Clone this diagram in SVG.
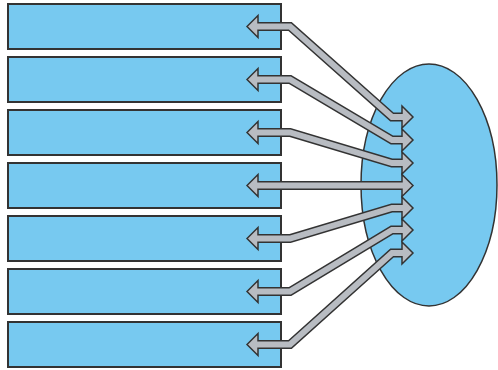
<svg xmlns="http://www.w3.org/2000/svg" width="498" height="370" viewBox="0 0 498 370">
<style>
.box{fill:#77c9f0;stroke:#333;stroke-width:2}
.ell{fill:#77c9f0;stroke:#333;stroke-width:1.5}
.sh{fill:none;stroke:#333;stroke-width:9;stroke-linejoin:miter}
.si{fill:none;stroke:#b8bcc2;stroke-width:6;stroke-linejoin:miter}
.hd{fill:#b8bcc2;stroke:#333;stroke-width:1.5;stroke-linejoin:miter}
</style>
<rect width="498" height="370" fill="#fff"/>
<g id="box1"><rect class="box" x="8" y="4" width="273" height="45"/></g>
<g id="box2"><rect class="box" x="8" y="57" width="273" height="45"/></g>
<g id="box3"><rect class="box" x="8" y="110" width="273" height="45"/></g>
<g id="box4"><rect class="box" x="8" y="163" width="273" height="45"/></g>
<g id="box5"><rect class="box" x="8" y="216" width="273" height="45"/></g>
<g id="box6"><rect class="box" x="8" y="269" width="273" height="45"/></g>
<g id="box7"><rect class="box" x="8" y="322" width="273" height="45"/></g>
<g id="hub"><ellipse class="ell" cx="429" cy="185" rx="68" ry="121"/></g>
<g id="connectors">
<g>
<polyline class="sh" points="252,26.5 290,26.5 392,117 408,117"/>
<polygon class="hd" points="247,26.5 258,15.5 258,37.5"/>
<polygon class="hd" points="413,117 402,106 402,128"/>
<polyline class="si" points="253,26.5 290,26.5 392,117 407,117"/>
</g>
<g>
<polyline class="sh" points="252,79.5 290,79.5 392,140 408,140"/>
<polygon class="hd" points="247,79.5 258,68.5 258,90.5"/>
<polygon class="hd" points="413,140 402,129 402,151"/>
<polyline class="si" points="253,79.5 290,79.5 392,140 407,140"/>
</g>
<g>
<polyline class="sh" points="252,132.5 290,132.5 392,163 408,163"/>
<polygon class="hd" points="247,132.5 258,121.5 258,143.5"/>
<polygon class="hd" points="413,163 402,152 402,174"/>
<polyline class="si" points="253,132.5 290,132.5 392,163 407,163"/>
</g>
<g>
<polyline class="sh" points="252,185.5 408,185.5"/>
<polygon class="hd" points="247,185.5 258,174.5 258,196.5"/>
<polygon class="hd" points="413,185.5 402,174.5 402,196.5"/>
<polyline class="si" points="253,185.5 407,185.5"/>
</g>
<g>
<polyline class="sh" points="252,238.5 290,238.5 392,208 408,208"/>
<polygon class="hd" points="247,238.5 258,227.5 258,249.5"/>
<polygon class="hd" points="413,208 402,197 402,219"/>
<polyline class="si" points="253,238.5 290,238.5 392,208 407,208"/>
</g>
<g>
<polyline class="sh" points="252,291.5 290,291.5 392,230 408,230"/>
<polygon class="hd" points="247,291.5 258,280.5 258,302.5"/>
<polygon class="hd" points="413,230 402,219 402,241"/>
<polyline class="si" points="253,291.5 290,291.5 392,230 407,230"/>
</g>
<g>
<polyline class="sh" points="252,344.5 290,344.5 392,253 408,253"/>
<polygon class="hd" points="247,344.5 258,333.5 258,355.5"/>
<polygon class="hd" points="413,253 402,242 402,264"/>
<polyline class="si" points="253,344.5 290,344.5 392,253 407,253"/>
</g>
</g>
</svg>
